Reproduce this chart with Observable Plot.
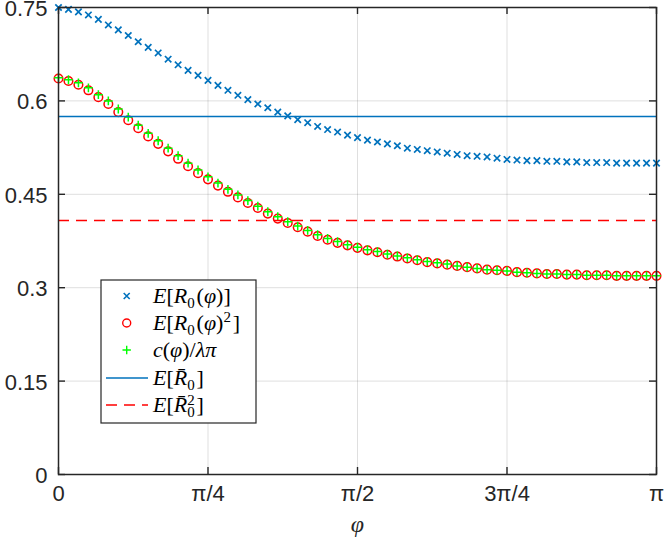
<!DOCTYPE html>
<html><head><meta charset="utf-8">
<script src="https://cdn.jsdelivr.net/npm/d3@7"></script>
<script src="https://cdn.jsdelivr.net/npm/@observablehq/plot@0.6"></script>
<style>
body{margin:0;background:#fff}
#chart{position:relative;width:664px;height:543px}
</style>
</head><body><div id="chart"></div>
<script>
// x positions in units of π (61 samples from 0 to π)
const phiOverPi = d3.range(61).map(k => k / 60);

// E[R0(φ)]
const meanR0 = [0.750,0.747,0.743,0.738,0.731,0.722,0.714,0.705,0.695,0.686,
  0.677,0.667,0.658,0.649,0.641,0.633,0.625,0.617,0.609,0.602,
  0.595,0.589,0.582,0.576,0.570,0.565,0.559,0.554,0.550,0.545,
  0.541,0.537,0.534,0.531,0.528,0.524,0.522,0.520,0.518,0.516,
  0.514,0.512,0.511,0.510,0.508,0.506,0.505,0.504,0.504,0.503,
  0.503,0.502,0.502,0.501,0.501,0.501,0.500,0.500,0.500,0.500,0.500];

// E[R0(φ)^2]
const meanR0sq = [0.636,0.632,0.626,0.617,0.606,0.595,0.582,0.569,0.556,0.543,
  0.531,0.519,0.507,0.495,0.484,0.474,0.464,0.454,0.445,0.436,
  0.428,0.419,0.411,0.404,0.397,0.390,0.383,0.377,0.372,0.368,
  0.364,0.360,0.357,0.353,0.350,0.347,0.344,0.341,0.339,0.337,
  0.335,0.333,0.331,0.329,0.328,0.327,0.325,0.324,0.323,0.322,
  0.322,0.321,0.321,0.320,0.320,0.320,0.319,0.319,0.319,0.319,0.319];

// c(φ)/λπ
const cOverLambdaPi = [0.637,0.634,0.629,0.621,0.610,0.600,0.587,0.574,0.561,0.548,
  0.536,0.524,0.512,0.500,0.489,0.478,0.468,0.458,0.449,0.440,
  0.431,0.422,0.414,0.406,0.399,0.392,0.385,0.379,0.374,0.369,
  0.365,0.361,0.358,0.354,0.351,0.348,0.345,0.342,0.340,0.338,
  0.335,0.333,0.331,0.329,0.328,0.327,0.325,0.324,0.323,0.322,
  0.322,0.321,0.321,0.320,0.320,0.320,0.319,0.319,0.319,0.319,0.319];

const meanR0bar = 0.575;     // E[R̄0]
const meanR0barSq = 0.408;   // E[R̄0²]

const xTicks = [0, 0.25, 0.5, 0.75, 1];
const xTickLabels = ["0", "π/4", "π/2", "3π/4", "π"];
const yTicks = [0, 0.15, 0.3, 0.45, 0.6, 0.75];
const yTickLabels = ["0", "0.15", "0.3", "0.45", "0.6", "0.75"];
const xLabel = "φ";

const blue = "#0072BD", red = "#FF0000", green = "#00FF00", ink = "#262626";

const timesSymbol = {draw(ctx, size) { const h = Math.sqrt(size / Math.PI);
  ctx.moveTo(-h, -h); ctx.lineTo(h, h); ctx.moveTo(-h, h); ctx.lineTo(h, -h); }};
const plusSymbol = {draw(ctx, size) { const h = Math.sqrt(size / Math.PI);
  ctx.moveTo(-h, 0); ctx.lineTo(h, 0); ctx.moveTo(0, -h); ctx.lineTo(0, h); }};

const W = 664, H = 543, mL = 58, mR = 8, mT = 7, mB = 69;
const plotW = W - mL - mR, plotH = H - mT - mB, tickLen = 7;

const pts = phiOverPi.map((x, i) => ({x, a: meanR0[i], b: meanR0sq[i], c: cOverLambdaPi[i]}));

const plot = Plot.plot({
  width: W, height: H,
  marginLeft: mL, marginRight: mR, marginTop: mT, marginBottom: mB,
  style: {fontFamily: "'Liberation Sans', Arial, sans-serif", fontSize: "21px", color: ink, background: "#fff", overflow: "visible"},
  x: {domain: [0, 1]},
  y: {domain: [0, 0.75]},
  marks: [
    Plot.gridX(xTicks, {stroke: ink, strokeOpacity: 0.15, strokeWidth: 1}),
    Plot.gridY(yTicks, {stroke: ink, strokeOpacity: 0.15, strokeWidth: 1}),
    Plot.dot(pts, {x: "x", y: "a", symbol: timesSymbol, r: 3.2, fill: "none", stroke: blue, strokeWidth: 1.7}),
    Plot.dot(pts, {x: "x", y: "b", symbol: "circle", r: 4.3, fill: "none", stroke: red, strokeWidth: 1.5}),
    Plot.dot(pts, {x: "x", y: "c", symbol: plusSymbol, r: 4.4, fill: "none", stroke: green, strokeWidth: 1.5}),
    Plot.ruleY([meanR0bar], {stroke: blue, strokeWidth: 1.4}),
    Plot.ruleY([meanR0barSq], {stroke: red, strokeWidth: 1.4, strokeDasharray: "11,7"}),
    // inward ticks on all four sides
    Plot.gridX(xTicks, {stroke: ink, strokeOpacity: 1, strokeWidth: 1.4, insetTop: plotH - tickLen}),
    Plot.gridX(xTicks, {stroke: ink, strokeOpacity: 1, strokeWidth: 1.4, insetBottom: plotH - tickLen}),
    Plot.gridY(yTicks, {stroke: ink, strokeOpacity: 1, strokeWidth: 1.4, insetRight: plotW - tickLen}),
    Plot.gridY(yTicks, {stroke: ink, strokeOpacity: 1, strokeWidth: 1.4, insetLeft: plotW - tickLen}),
    Plot.frame({stroke: ink, strokeWidth: 1.5}),
    Plot.axisX(xTicks, {anchor: "bottom", tickSize: 0, tickPadding: 11, label: null,
      tickFormat: d => xTickLabels[xTicks.indexOf(d)], fill: ink, fontSize: 22}),
    Plot.axisY(yTicks, {anchor: "left", tickSize: 0, tickPadding: 11, label: null, dy: 1.5,
      tickFormat: d => yTickLabels[yTicks.indexOf(d)], fill: ink, fontSize: 22}),
    Plot.text([xLabel], {text: d => d, frameAnchor: "bottom", dy: 57, fill: ink,
      fontFamily: "'Liberation Serif', serif", fontStyle: "italic", fontSize: 24})
  ]
});

// Legend (inside the axes, lower left)
const svg = d3.select(plot);
const legend = [
  {kind: "times", color: blue, parts: [["E","i"],["[","r"],["R","i"],["0","sub"],["(","r"],["φ","i"],[")]","r"]]},
  {kind: "circle", color: red, parts: [["E","i"],["[","r"],["R","i"],["0","sub"],["(","r"],["φ","i"],[")","r"],["2","sup"],["]","r"]]},
  {kind: "plus", color: green, parts: [["c","i"],["(","r"],["φ","i"],[")/","r"],["λπ","i"]]},
  {kind: "line", color: blue, parts: [["E","i"],["[","r"],["R\u0304","i"],["0","sub"],["]","r"]]},
  {kind: "dash", color: red, parts: [["E","i"],["[","r"],["R\u0304","i"],["0","subsup"],["]","r"]]}
];
const lg = svg.append("g").attr("text-anchor", "start");
const bx = 101, by = 280, bw = 155, bh = 143;
lg.append("rect").attr("x", bx).attr("y", by).attr("width", bw).attr("height", bh)
  .attr("fill", "#fff").attr("stroke", ink).attr("stroke-width", 1.2);
const rowY = [296, 323, 350, 378, 405];
legend.forEach((d, i) => {
  const y = rowY[i];
  const mx = 126.7;
  if (d.kind === "times") {
    lg.append("path").attr("transform", `translate(${mx},${y})`)
      .attr("d", d3.symbol(timesSymbol, Math.PI * 3 * 3)()).attr("fill", "none").attr("stroke", d.color).attr("stroke-width", 1.6);
  } else if (d.kind === "circle") {
    lg.append("circle").attr("cx", mx).attr("cy", y).attr("r", 4).attr("fill", "none").attr("stroke", d.color).attr("stroke-width", 1.4);
  } else if (d.kind === "plus") {
    lg.append("path").attr("transform", `translate(${mx},${y})`)
      .attr("d", d3.symbol(plusSymbol, Math.PI * 4.2 * 4.2)()).attr("fill", "none").attr("stroke", d.color).attr("stroke-width", 1.4);
  } else {
    lg.append("line").attr("x1", 106).attr("x2", 148).attr("y1", y).attr("y2", y)
      .attr("stroke", d.color).attr("stroke-width", 1.4)
      .attr("stroke-dasharray", d.kind === "dash" ? "11,7" : null);
  }
  const t = lg.append("text").attr("x", 153).attr("y", y + 7).attr("text-anchor", "start")
    .attr("font-family", "'Liberation Serif', 'DejaVu Serif', serif").attr("font-size", 22).attr("fill", "#000");
  d.parts.forEach(([s, st]) => {
    if (st === "sub") {
      t.append("tspan").attr("dy", 5).attr("font-size", 15).text(s);
      t.append("tspan").attr("dy", -5).text("\u200A");
    } else if (st === "sup") {
      t.append("tspan").attr("dy", -8).attr("font-size", 15).text(s);
      t.append("tspan").attr("dy", 8).text("\u200A");
    } else if (st === "subsup") {
      t.append("tspan").attr("dy", 5).attr("font-size", 15).text(s);
      t.append("tspan").attr("dy", -12).attr("dx", -7.5).attr("font-size", 15).text("2");
      t.append("tspan").attr("dy", 7).text("\u200A");
    } else {
      t.append("tspan").attr("font-style", st === "i" ? "italic" : "normal").text(s);
    }
  });
});

document.getElementById("chart").appendChild(plot);
</script>
</body></html>
